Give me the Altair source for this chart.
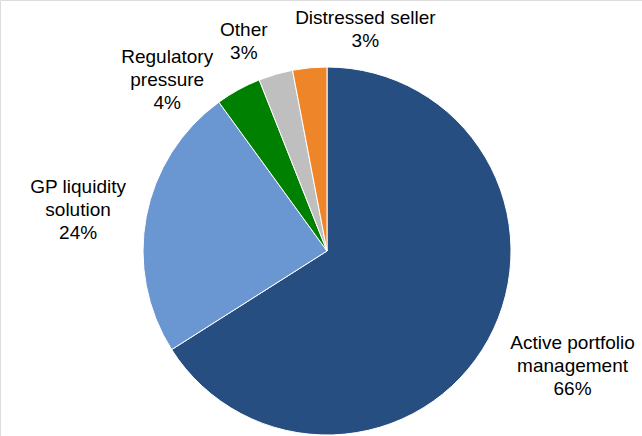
import altair as alt
import pandas as pd

# Reasons for secondary sales (share of transactions, %)
causes = [
    "Active portfolio\nmanagement",
    "GP liquidity\nsolution",
    "Regulatory\npressure",
    "Other",
    "Distressed seller",
]
shares = [66, 24, 4, 3, 3]
colors = ["#264E80", "#6A96D2", "#008000", "#BFBFBF", "#EE8629"]

df = pd.DataFrame({"cause": causes, "share": shares, "idx": list(range(len(causes)))})

CX, CY, R = 327, 251, 184
LABEL_R = 230
# pixel nudges for each label's first line, relative to the point on the slice's mid-angle
nudge = {
    causes[0]: (44, -19),
    causes[1]: (-23, -21),
    causes[2]: (-49, 8),
    causes[3]: (-19, 0),
    causes[4]: (60, -4),
}

base = alt.Chart(df)

pie = base.mark_arc(outerRadius=R, stroke="white", strokeWidth=1).encode(
    theta=alt.Theta("share:Q", stack=True),
    order=alt.Order("idx:Q"),
    color=alt.Color("cause:N", scale=alt.Scale(domain=causes, range=colors), legend=None),
    x=alt.value(CX),
    y=alt.value(CY),
)

positioned = (
    base.transform_window(cum="sum(share)", sort=[alt.SortField("idx")], frame=[None, 0])
    .transform_joinaggregate(total="sum(share)")
    .transform_calculate(
        mid="(datum.cum - datum.share / 2) / datum.total * 2 * PI",
        label="datum.cause + '\\n' + datum.share + '%'",
    )
    .transform_calculate(
        lx=f"{CX} + {LABEL_R} * sin(datum.mid)",
        ly=f"{CY} - {LABEL_R} * cos(datum.mid)",
    )
)

labels = []
for cause in causes:
    dx, dy = nudge[cause]
    labels.append(
        positioned.transform_filter(alt.datum.cause == cause)
        .mark_text(
            font="Liberation Sans",
            fontSize=19,
            color="#000000",
            align="center",
            baseline="middle",
            lineBreak="\n",
            lineHeight=23,
            dx=dx,
            dy=dy,
        )
        .encode(
            x=alt.X("lx:Q", scale=None, axis=None),
            y=alt.Y("ly:Q", scale=None, axis=None),
            text="label:N",
        )
    )

chart = (
    alt.layer(pie, *labels)
    .properties(width=642, height=436, padding=0, autosize=alt.AutoSizeParams(type="none"))
    .configure_view(stroke=None)
    .configure(background="white")
)

chart.save("out.html", embed_options={"renderer": "svg", "actions": False})
